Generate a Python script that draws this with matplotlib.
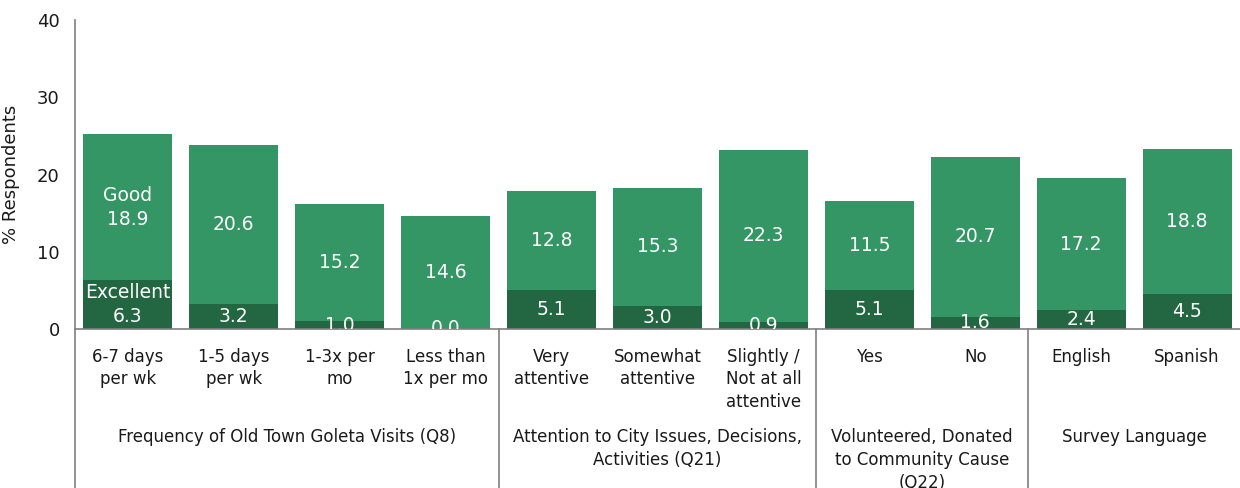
import matplotlib

matplotlib.use("Agg")
import matplotlib.pyplot as plt
import numpy as np

# ---- data ---------------------------------------------------------------- #
categories = [
    "6-7 days\nper wk", "1-5 days\nper wk", "1-3x per\nmo", "Less than\n1x per mo",
    "Very\nattentive", "Somewhat\nattentive", "Slightly /\nNot at all\nattentive",
    "Yes", "No",
    "English", "Spanish",
]
excellent = [6.3, 3.2, 1.0, 0.0, 5.1, 3.0, 0.9, 5.1, 1.6, 2.4, 4.5]
good = [18.9, 20.6, 15.2, 14.6, 12.8, 15.3, 22.3, 11.5, 20.7, 17.2, 18.8]

group_names = [
    "Frequency of Old Town Goleta Visits (Q8)",
    "Attention to City Issues, Decisions,\nActivities (Q21)",
    "Volunteered, Donated\nto Community Cause\n(Q22)",
    "Survey Language",
]
group_sizes = [4, 3, 2, 2]

DARK = "#236642"
LIGHT = "#339664"
TEXT = "#1a1a1a"
AXIS = "#7f7f7f"

plt.rcParams["font.family"] = ["DejaVu Sans"]

fig = plt.figure(figsize=(12.4, 4.88), dpi=100)
ax = fig.add_axes([75 / 1240, 159 / 488, 1165 / 1240, 309 / 488])

x = np.arange(len(categories))
exc = np.array(excellent)
gd = np.array(good)
width = 0.84

ax.bar(x, exc, width, color=DARK, zorder=2)
ax.bar(x, gd, width, bottom=exc, color=LIGHT, zorder=2)

# value labels (clipped at the axis, like the original)
for i in range(len(x)):
    g_txt = f"{gd[i]:.1f}"
    e_txt = f"{exc[i]:.1f}"
    if i == 0:
        g_txt = "Good\n" + g_txt
        e_txt = "Excellent\n" + e_txt
    ax.text(x[i], exc[i] + gd[i] / 2, g_txt, ha="center", va="center",
            color="white", fontsize=13.5, linespacing=1.3, clip_on=True, zorder=3)
    ax.text(x[i], exc[i] / 2, e_txt, ha="center", va="center",
            color="white", fontsize=13.5, linespacing=1.3, clip_on=True, zorder=3)

ax.set_xlim(-0.5, len(x) - 0.5)
ax.set_ylim(0, 40)
ax.set_yticks([0, 10, 20, 30, 40])
ax.tick_params(axis="y", length=0, labelsize=13, labelcolor=TEXT, pad=11)
ax.set_xticks([])
ax.set_ylabel("% Respondents", fontsize=13, color=TEXT)
ax.yaxis.set_label_coords(-0.047, 0.5)

for s in ["top", "right", "left"]:
    ax.spines[s].set_visible(False)
ax.spines["bottom"].set_color(AXIS)
ax.spines["bottom"].set_linewidth(1.2)

trans = ax.get_xaxis_transform()
# left axis line running down through the label area
ax.plot([-0.5, -0.5], [1.0, -0.6], transform=trans, color=AXIS, lw=1.2, clip_on=False)

# category labels
for i, c in enumerate(categories):
    ax.text(x[i], -0.06, c, transform=trans, ha="center", va="top",
            fontsize=12, color=TEXT, linespacing=1.35)

# group separators and group labels
start = 0
for name, n in zip(group_names, group_sizes):
    end = start + n
    if end < len(x):
        ax.plot([end - 0.5, end - 0.5], [0, -0.6], transform=trans,
                color=AXIS, lw=1.2, clip_on=False)
    ax.text((start + end - 1) / 2, -0.32, name, transform=trans, ha="center",
            va="top", fontsize=12, color=TEXT, linespacing=1.35)
    start = end

fig.savefig("out.png", dpi=100)
